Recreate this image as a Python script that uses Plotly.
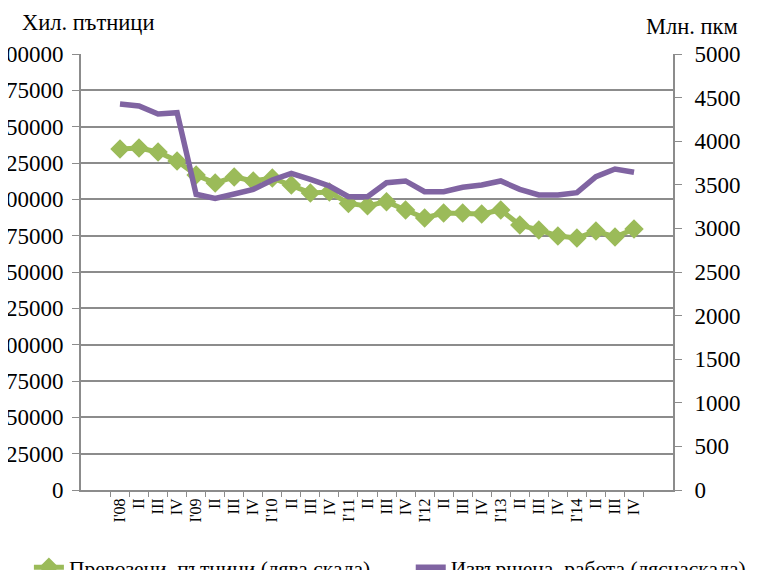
import plotly.graph_objects as go

quarters = [f"{y}-Q{q}" for y in range(2008, 2015) for q in range(1, 5)]
tick_labels = ["I'08", "II", "III", "IV", "I'09", "II", "III", "IV",
               "I'10", "II", "III", "IV", "I'11", "II", "III", "IV",
               "I'12", "II", "III", "IV", "I'13", "II", "III", "IV",
               "I'14", "II", "III", "IV"]

passengers = [234600, 235300, 232600, 226400, 216700, 211200, 215400, 212600,
              214700, 209900, 204400, 205000, 197200, 195500, 198400, 192700,
              187200, 190600, 190600, 189900, 192700, 182300, 178900, 174800,
              173400, 178200, 174100, 179600]

work = [4427, 4404, 4312, 4327, 3391, 3345, 3394, 3448,
        3555, 3632, 3563, 3486, 3363, 3363, 3524, 3544,
        3421, 3421, 3471, 3498, 3544, 3448, 3383, 3383,
        3410, 3593, 3681, 3643]

left_ticks = list(range(0, 300001, 25000))
right_ticks = list(range(0, 5001, 500))

FONT = "Times New Roman, Liberation Serif, serif"
GREEN = "#9BBB59"
PURPLE = "#8064A2"
GRID = "#8C8C8C"

fig = go.Figure()
fig.add_trace(go.Scatter(
    x=quarters, y=passengers, name="Превозени  пътници (лява скала)",
    mode="lines+markers", line=dict(color=GREEN, width=5),
    marker=dict(symbol="diamond", size=15, color=GREEN), yaxis="y",
    legend="legend"))
fig.add_trace(go.Scatter(
    x=quarters, y=work, name="Извършена  работа (ляснаскала)",
    mode="lines", line=dict(color=PURPLE, width=5.5), yaxis="y2",
    legend="legend2"))

legend_common = dict(orientation="h", y=-0.13, yanchor="top", xanchor="left",
                     font=dict(size=21.5), itemwidth=30, bgcolor="rgba(0,0,0,0)")

fig.update_layout(
    width=759, height=570,
    margin=dict(l=73, r=94, t=46, b=88, autoexpand=False),
    paper_bgcolor="white", plot_bgcolor="white",
    font=dict(family=FONT, size=23, color="black"),
    showlegend=True,
    legend=dict(x=-0.088, **legend_common),
    legend2=dict(x=0.557, **legend_common),
    xaxis=dict(type="category", tickvals=quarters, ticktext=tick_labels,
               tickangle=-90, tickson="boundaries", ticks="outside", ticklen=5,
               tickcolor=GRID, showline=True, linecolor=GRID, linewidth=2,
               showgrid=False, tickfont=dict(size=16), automargin=False),
    yaxis=dict(range=[0, 300000], tickvals=left_ticks, ticks="outside", ticklen=7,
               tickcolor=GRID, showline=True, linecolor=GRID, linewidth=2,
               showgrid=True, gridcolor=GRID, gridwidth=1.5, zeroline=False,
               ticklabelstandoff=4, tickformat="d", automargin=False),
    yaxis2=dict(range=[0, 5000], tickvals=right_ticks, overlaying="y", side="right",
                ticks="outside", ticklen=7, tickcolor=GRID, showline=True,
                linecolor=GRID, linewidth=2, showgrid=False, zeroline=False,
                ticklabelstandoff=8, tickformat="d", automargin=False),
    annotations=[
        dict(text="Хил. пътници", xref="paper", yref="paper", x=-0.103, y=1.073,
             xanchor="left", yanchor="middle", showarrow=False, font=dict(size=22.5)),
        dict(text="Млн. пкм", xref="paper", yref="paper", x=1.113, y=1.064,
             xanchor="right", yanchor="middle", showarrow=False, font=dict(size=22.5)),
    ],
)

fig.write_html("out.html")
